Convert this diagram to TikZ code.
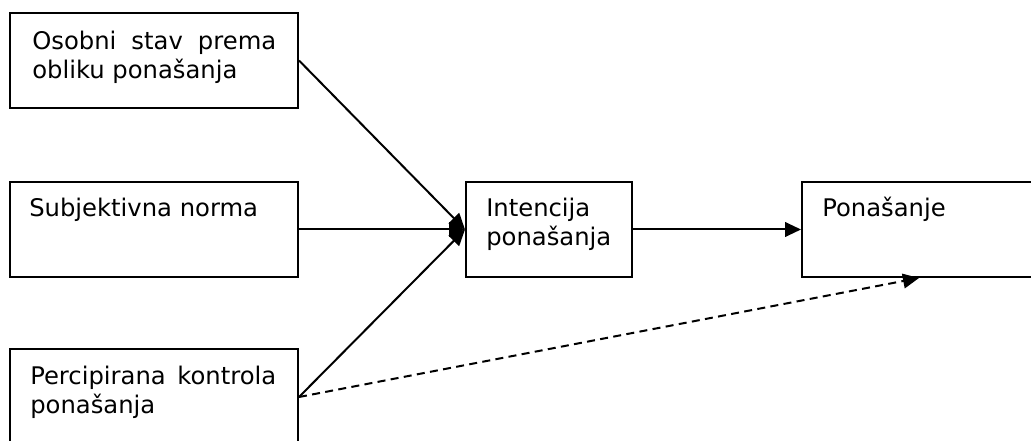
\documentclass[tikz,border=0pt]{standalone}
\usepackage{fontspec}
\setmainfont{DejaVu Sans}
\usetikzlibrary{arrows.meta}
\tikzset{
  box/.style={draw, line width=1.5pt, inner sep=0pt, rectangle},
  lbl/.style={anchor=north west, inner sep=0pt, align=left, font=\fontsize{18.2pt}{20.25pt}\selectfont},
  conn/.style={line width=1.5pt, -{Triangle[length=12pt,width=11pt]}},
}
\begin{document}
\begin{tikzpicture}[x=0.75pt,y=-0.75pt]
\useasboundingbox (0,0) rectangle (1031,441);
\node[box, minimum width=216pt, minimum height=71.25pt] (b1) at (154,60.5) {};
\node[box, minimum width=216pt, minimum height=71.25pt] (b2) at (154,229.5) {};
\node[box, minimum width=216pt, minimum height=72pt] (b3) at (154,397) {};
\node[box, minimum width=124.5pt, minimum height=71.25pt] (b4) at (549,229.5) {};
\node[box, minimum width=182.25pt, minimum height=71.25pt] (b5) at (923.5,229.5) {};
\node[lbl] (t1) at ([shift={(23,18)}]b1.north west) {\strut\makebox[183pt][s]{Osobni stav prema}\\obliku ponašanja};
\node[lbl] (t2) at ([shift={(20,16)}]b2.north west) {\strut Subjektivna norma};
\node[lbl] (t3) at ([shift={(21,17)}]b3.north west) {\strut\makebox[184.5pt][s]{Percipirana kontrola}\\ponašanja};
\node[lbl] (t4) at ([shift={(21,16)}]b4.north west) {\strut Intencija\\ponašanja};
\node[lbl] (t5) at ([shift={(21,16)}]b5.north west) {\strut Ponašanje};
\coordinate (d) at ([shift={(118,0)}]b5.south west);
\draw[conn] (b1.east) -- (b4.west);
\draw[conn] (b2.east) -- (b4.west);
\draw[conn] (b3.east) -- (b4.west);
\draw[conn] (b4.east) -- (b5.west);
\draw[conn, dashed, dash pattern=on 6pt off 4pt] (b3.east) -- (d);
\end{tikzpicture}
\end{document}
